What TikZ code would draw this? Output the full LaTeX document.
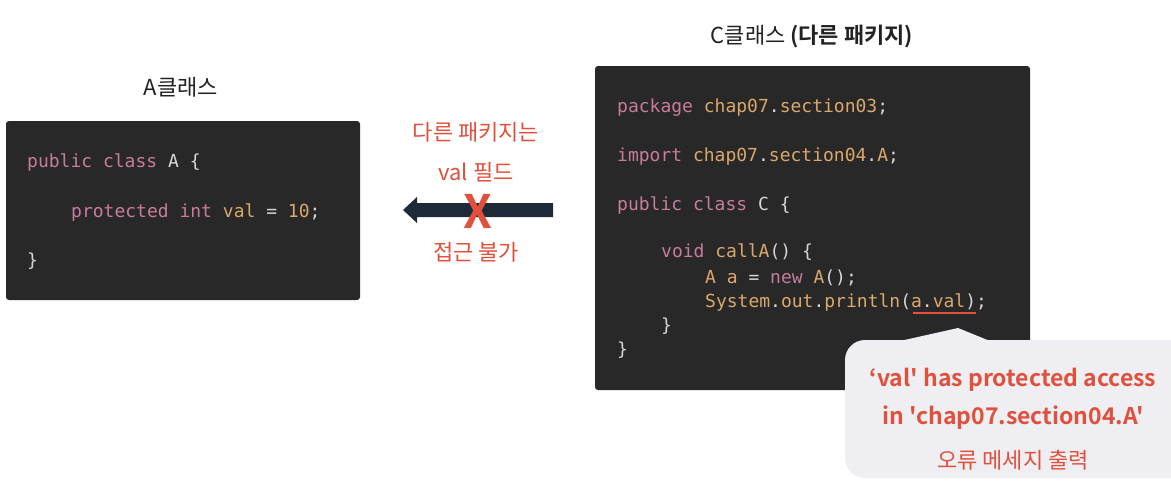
\documentclass[tikz,border=0pt]{standalone}
\usepackage{fontspec}
\setmonofont{DejaVu Sans Mono}
\newfontfamily\kr{Noto Sans CJK KR}
\newfontfamily\krb{Noto Sans CJK KR Bold}
\definecolor{codebg}{HTML}{282828}
\definecolor{kw}{HTML}{C97B9E}
\definecolor{id}{HTML}{DBA86C}
\definecolor{pl}{HTML}{D6D6D6}
\definecolor{errred}{HTML}{E0503C}
\definecolor{navy}{HTML}{1D2A38}
\definecolor{callbg}{HTML}{EFEFF3}
\definecolor{titlec}{HTML}{222222}
\newcommand{\ckw}[1]{\textcolor{kw}{#1}}
\newcommand{\cid}[1]{\textcolor{id}{#1}}
\begin{document}
\begin{tikzpicture}[x=1pt,y=-1pt,
  code/.style={anchor=base west,inner sep=0pt,font=\ttfamily\fontsize{18}{18}\selectfont,text=pl},
  codebox/.style={fill=codebg,rounded corners=3pt,draw=none},
  title/.style={font=\kr\fontsize{22}{22}\selectfont,text=titlec,inner sep=0pt},
  redlbl/.style={font=\kr\fontsize{22}{22}\selectfont,text=errred,inner sep=0pt},
  errtxt/.style={font=\krb\fontsize{23}{23}\selectfont,text=errred,inner sep=0pt}]
\useasboundingbox (0,0) rectangle (1171,480);
\fill[white] (0,0) rectangle (1171,480);
% titles
\node[title] (tA) at (181,87) {A클래스};
\node[title] (tC) at (812,36) {C클래스 {\krb (다른 패키지)}};
% A box
\path[codebox] (6,121) rectangle (360,300);
\node[code] (a1) at (27,167) {\ckw{public class} A \{};
\node[code] (a2) at (71,217) {\ckw{protected int} \cid{val} = \cid{10};};
\node[code] (a3) at (27,266) {\}};
% C box
\path[codebox] (595,66) rectangle (1030,390);
\node[code] (c1) at (617,112) {\ckw{package} \cid{chap07}.\cid{section03};};
\node[code] (c2) at (617,161) {\ckw{import} \cid{chap07}.\cid{section04}.\cid{A};};
\node[code] (c3) at (617,210) {\ckw{public class} C \{};
\node[code] (c4) at (661,257) {\ckw{void} \cid{callA}() \{};
\node[code] (c5) at (705,283) {\cid{A a} = \ckw{new} \cid{A}();};
\node[code] (c6) at (705,307) {\cid{System}.\cid{out}.\cid{println}(\cid{a}.\cid{val});};
\node[code] (c7) at (661,331) {\}};
\node[code] (c8) at (617,355) {\}};
\coordinate (u1) at (913,313);
\coordinate (u2) at (976,313);
\draw[errred,line width=1.6pt] (u1) -- (u2);
% arrow
\fill[navy] (553,203) -- (417,203) -- (417,197) -- (403,210) -- (417,223) -- (417,217) -- (553,217) -- cycle;
\node[font=\krb\fontsize{46}{46}\selectfont,text=errred,inner sep=0pt] (x) at (478,211) {X};
\node[redlbl] (r1) at (476,132) {다른 패키지는};
\node[redlbl] (r2) at (476,172) {val 필드};
\node[redlbl] (r3) at (476,252) {접근 불가};
% callout
\fill[callbg,rounded corners=20pt] (845,340) rectangle (1200,478);
\fill[callbg] (900,341) -- (958,328) -- (990,341) -- cycle;
\node[errtxt] (e1) at (1013,380) {‘val' has protected access};
\node[errtxt] (e2) at (1013,418) {in 'chap07.section04.A'};
\node[redlbl] (e3) at (1013,460) {오류 메세지 출력};
\end{tikzpicture}
\end{document}
